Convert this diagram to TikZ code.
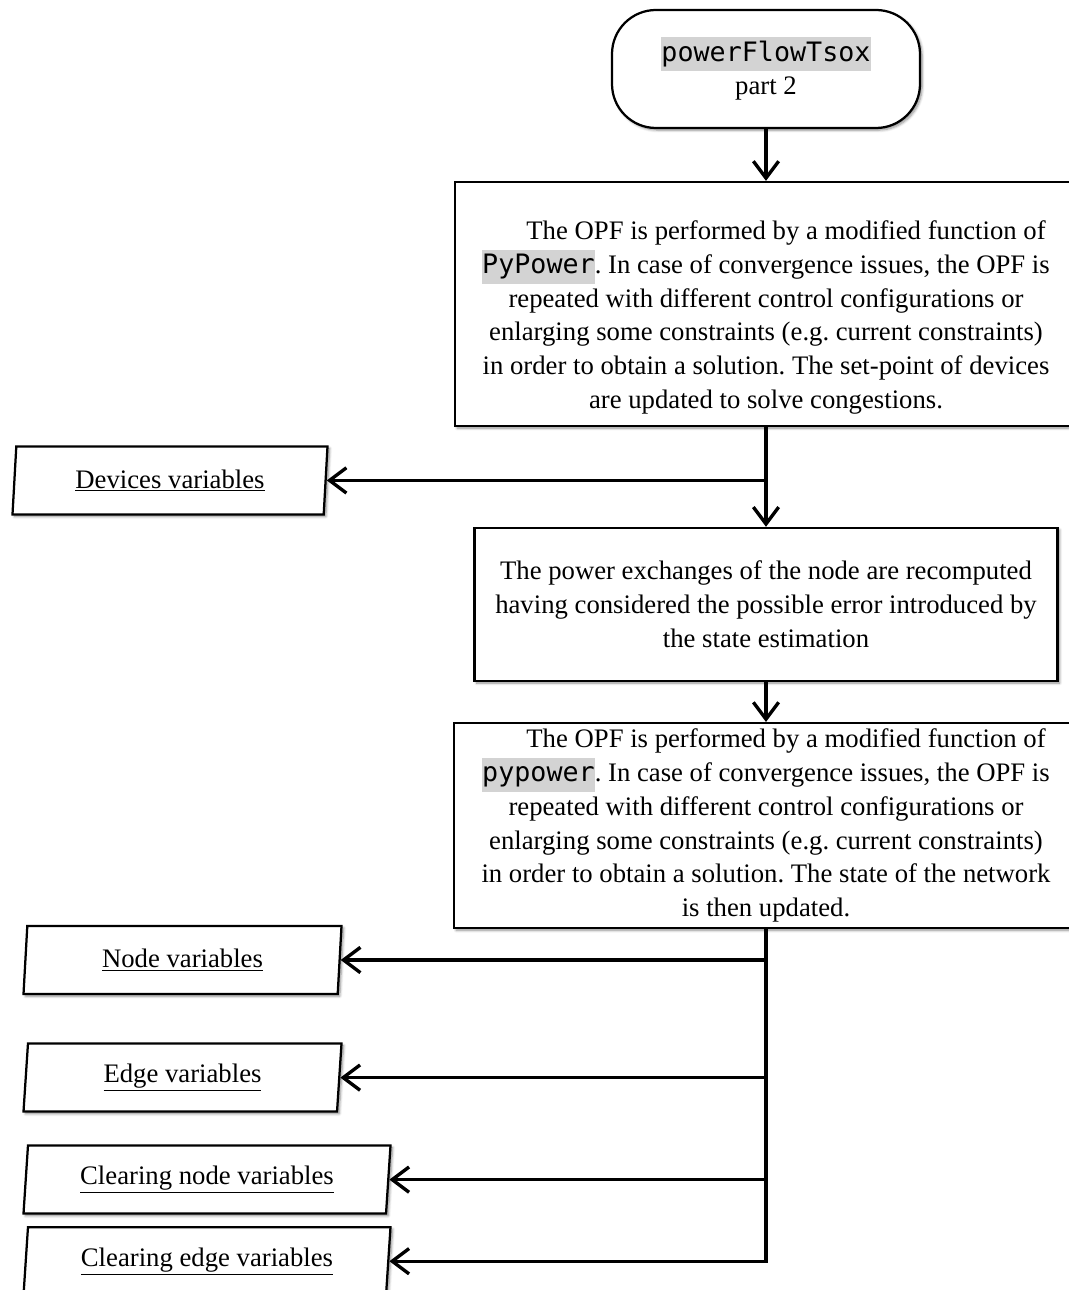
\documentclass[tikz,border=0pt]{standalone}
\usepackage{fontspec}
\setmainfont{Liberation Serif}
\setmonofont{DejaVu Sans Mono}
\usetikzlibrary{arrows.meta,shapes.geometric,shadows.blur}
\definecolor{codebg}{RGB}{211,211,211}
\newcommand{\code}[1]{{\setlength{\fboxsep}{0pt}\colorbox{codebg}{\ttfamily\strut #1}}}
\frenchspacing
\tikzset{
  shade box/.style={blur shadow={shadow xshift=1.5pt, shadow yshift=-1.5pt, shadow blur steps=6, shadow opacity=45}},
  procbox/.style={draw, line width=1.6pt, fill=white, shade box, align=center, inner sep=2pt},
  databox/.style={draw, line width=1.6pt, fill=white, shade box, trapezium,
    trapezium left angle=83, trapezium right angle=97, trapezium stretches body,
    minimum height=1.7cm},
  flow/.style={->, line width=2.4pt}
}
\begin{document}
\begin{tikzpicture}[>={Straight Barb[length=12pt,width=18pt]},
    font=\fontsize{19}{24}\selectfont]
\useasboundingbox (0,0) rectangle (26.7,-32.25);

    % Inizio
    \node[procbox, rectangle, rounded corners=1.1cm, minimum width=7.7cm,
         minimum height=2.95cm] (start) at (19.15,-1.725) {\code{powerFlowTsox}\\part 2};

    % Blocchi di calcolo
    \node[procbox, minimum width=15.55cm, minimum height=6.1cm] (opf1) at (19.15,-7.6)
      {\rule{0pt}{1.15cm}\hspace*{1.5em}The OPF is performed by a modified function of\\
       \code{PyPower}. In case of convergence issues, the OPF is\\
       repeated with different control configurations or\\
       enlarging some constraints (e.g. current constraints)\\
       in order to obtain a solution. The set-point of devices\\
       are updated to solve congestions.};
    \node[procbox, minimum width=14.575cm, minimum height=3.825cm] (exch) at (19.15,-15.11)
      {The power exchanges of the node are recomputed\\
       having considered the possible error introduced by\\
       the state estimation};
    \node[procbox, minimum width=15.6cm, minimum height=5.125cm] (opf2) at (19.15,-20.64)
      {\hspace*{1.5em}The OPF is performed by a modified function of\\
       \code{pypower}. In case of convergence issues, the OPF is\\
       repeated with different control configurations or\\
       enlarging some constraints (e.g. current constraints)\\
       in order to obtain a solution. The state of the network\\
       is then updated.};

    % Variabili in uscita
    \node[databox, minimum width=7.875cm] (devvar) at (4.25,-12.01) {\underline{Devices variables}};
    \node[databox, minimum width=7.95cm] (nodevar) at (4.5625,-24.0) {\underline{Node variables}};
    \node[databox, minimum width=7.95cm] (edgevar) at (4.5625,-26.94) {\underline{Edge variables}};
    \node[databox, minimum width=9.175cm] (clrnode) at (5.175,-29.49) {\underline{Clearing node variables}};
    \node[databox, minimum width=9.175cm] (clredge) at (5.175,-31.53) {\underline{Clearing edge variables}};

    % Collegamenti
    \draw[flow] (start) -- (opf1);
    \draw[flow] (opf1) -- (exch);
    \draw[flow] (opf1.south) |- (devvar.east);
    \draw[flow] (exch) -- (opf2);
    \draw[flow] (opf2.south) |- (nodevar.east);
    \draw[flow] (opf2.south) |- (edgevar.east);
    \draw[flow] (opf2.south) |- (clrnode.east);
    \draw[flow] (opf2.south) |- (clredge.east);

\end{tikzpicture}
\end{document}
